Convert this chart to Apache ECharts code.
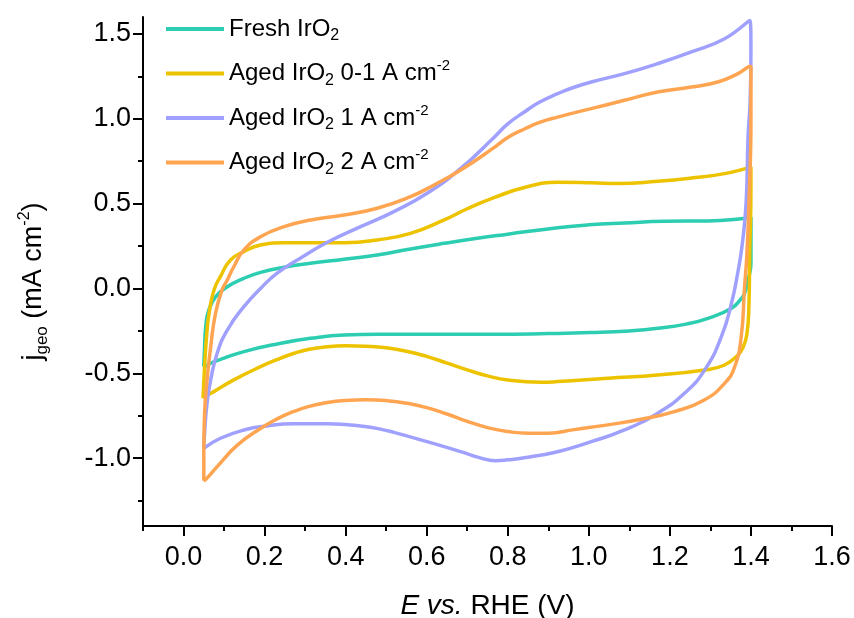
<!DOCTYPE html>
<html><head><meta charset="utf-8">
<script src="https://cdn.jsdelivr.net/npm/echarts@6/dist/echarts.min.js"></script>
<style>html,body{margin:0;padding:0;background:#fff}#c{width:854px;height:618px}</style>
</head><body><div id="c"></div>
<script>
// ---- data ----
const seriesNames = ['Fresh IrO2', 'Aged IrO2 0-1 A cm-2', 'Aged IrO2 1 A cm-2', 'Aged IrO2 2 A cm-2'];
const legendLabels = ['Fresh IrO{sub|2}', 'Aged IrO{sub|2} 0-1 A cm{sup|-2}', 'Aged IrO{sub|2} 1 A cm{sup|-2}', 'Aged IrO{sub|2} 2 A cm{sup|-2}'];
const seriesColors = ['#2CCDB0', '#EDC300', '#A0A0FF', '#FFA552'];

const freshE = [0.05,0.052,0.055,0.062,0.079,0.108,0.149,0.19,0.248,0.313,0.396,0.478,0.56,0.643,0.725,0.8,0.923,1.0,1.088,1.187,1.294,1.376,1.40,1.40,1.40,1.393,1.384,1.376,1.352,1.294,1.24,1.17,1.1,1.006,0.9,0.766,0.6,0.478,0.396,0.313,0.231,0.149,0.1,0.067,0.05];
const freshJ = [-0.46,-0.34,-0.22,-0.13,-0.05,0.01,0.06,0.095,0.125,0.148,0.172,0.197,0.233,0.266,0.296,0.32,0.358,0.375,0.386,0.396,0.398,0.411,0.42,0.37,0.15,0.05,-0.03,-0.06,-0.117,-0.176,-0.21,-0.235,-0.25,-0.26,-0.266,-0.27,-0.27,-0.27,-0.274,-0.294,-0.327,-0.372,-0.411,-0.441,-0.47];

const aged01E = [0.048,0.05,0.054,0.058,0.063,0.075,0.091,0.116,0.149,0.19,0.248,0.314,0.396,0.478,0.56,0.643,0.7,0.766,0.841,0.923,1.006,1.072,1.17,1.253,1.335,1.384,1.40,1.40,1.397,1.395,1.39,1.38,1.368,1.335,1.285,1.17,1.047,0.923,0.882,0.8,0.75,0.7,0.65,0.6,0.55,0.5,0.45,0.4,0.355,0.31,0.273,0.23,0.19,0.124,0.075,0.054,0.048];
const aged01J = [-0.647,-0.55,-0.38,-0.25,-0.146,-0.01,0.07,0.168,0.217,0.256,0.27,0.27,0.27,0.286,0.325,0.404,0.47,0.535,0.595,0.626,0.623,0.618,0.632,0.651,0.677,0.705,0.716,0.6,0.2,-0.1,-0.27,-0.35,-0.392,-0.451,-0.48,-0.51,-0.529,-0.549,-0.553,-0.54,-0.515,-0.48,-0.44,-0.40,-0.37,-0.35,-0.34,-0.338,-0.343,-0.358,-0.382,-0.42,-0.461,-0.539,-0.608,-0.637,-0.647];

const aged1E = [0.05,0.053,0.058,0.067,0.083,0.108,0.149,0.19,0.231,0.289,0.355,0.437,0.519,0.601,0.684,0.766,0.8,0.841,0.88,0.923,0.96,1.006,1.088,1.17,1.253,1.335,1.397,1.40,1.398,1.393,1.388,1.378,1.368,1.352,1.327,1.286,1.236,1.17,1.088,1.006,0.923,0.841,0.8,0.77,0.73,0.684,0.601,0.519,0.48,0.437,0.4,0.355,0.272,0.206,0.149,0.091,0.05];
const aged1J = [-0.942,-0.814,-0.677,-0.539,-0.382,-0.245,-0.107,0.0,0.09,0.18,0.272,0.364,0.453,0.561,0.708,0.89,0.97,1.04,1.10,1.148,1.183,1.217,1.266,1.325,1.394,1.472,1.58,1.40,1.1,0.9,0.5,0.25,0.1,-0.087,-0.284,-0.48,-0.618,-0.735,-0.834,-0.903,-0.962,-0.998,-1.01,-1.015,-0.997,-0.962,-0.903,-0.848,-0.826,-0.81,-0.802,-0.798,-0.798,-0.81,-0.834,-0.883,-0.942];

const aged2E = [0.05,0.05,0.052,0.058,0.067,0.079,0.095,0.108,0.124,0.149,0.19,0.248,0.314,0.396,0.478,0.56,0.618,0.684,0.766,0.8,0.841,0.88,0.923,1.006,1.088,1.17,1.253,1.318,1.368,1.393,1.40,1.40,1.395,1.39,1.384,1.376,1.36,1.335,1.285,1.211,1.129,1.047,0.964,0.9,0.85,0.8,0.75,0.7,0.65,0.6,0.55,0.5,0.45,0.4,0.355,0.31,0.272,0.23,0.19,0.132,0.083,0.054,0.05];
const aged2J = [-1.133,-0.97,-0.735,-0.539,-0.343,-0.146,-0.009,0.05,0.128,0.227,0.305,0.364,0.404,0.433,0.473,0.541,0.61,0.698,0.83,0.89,0.94,0.98,1.01,1.06,1.109,1.158,1.187,1.217,1.266,1.305,1.31,1.0,0.5,0.2,0.0,-0.284,-0.461,-0.559,-0.657,-0.726,-0.771,-0.804,-0.832,-0.853,-0.853,-0.843,-0.82,-0.783,-0.74,-0.702,-0.676,-0.661,-0.656,-0.66,-0.672,-0.695,-0.725,-0.77,-0.825,-0.925,-1.05,-1.128,-1.133];

const xMajorTicks = [0, 0.2, 0.4, 0.6, 0.8, 1.0, 1.2, 1.4, 1.6];
const xMinorTicks = [-0.1, 0.1, 0.3, 0.5, 0.7, 0.9, 1.1, 1.3, 1.5];
const yMajorTicks = [-1.0, -0.5, 0, 0.5, 1.0, 1.5];
const yMinorTicks = [-1.25, -0.75, -0.25, 0.25, 0.75, 1.25];

// ---- chart ----
const FONT = 'Liberation Sans';
const allE = [freshE, aged01E, aged1E, aged2E];
const allJ = [freshJ, aged01J, aged1J, aged2J];
function zip(a, b) { const n = Math.min(a.length, b.length); const r = []; for (let i = 0; i < n; i++) r.push([a[i], b[i]]); return r; }
const fmt = v => (v < 0 ? '-' : '') + Math.abs(v).toFixed(1);

const axisLineStyle = { color: '#000', width: 2 };
const chart = echarts.init(document.getElementById('c'), null, { renderer: 'canvas' });
chart.setOption({
  backgroundColor: '#fff',
  animation: false,
  color: seriesColors,
  grid: { left: 143, right: 22, top: 17, bottom: 92, containLabel: false, outerBoundsMode: 'none' },
  legend: {
    orient: 'vertical', left: 166, top: 14, padding: 0, icon: 'rect', itemWidth: 58, itemHeight: 4, itemGap: 14.5,
    data: seriesNames,
    formatter: name => legendLabels[seriesNames.indexOf(name)],
    textStyle: {
      fontFamily: FONT, fontSize: 24, color: '#000', lineHeight: 30,
      rich: {
        sub: { fontFamily: FONT, fontSize: 16, color: '#000', lineHeight: 15, verticalAlign: 'bottom' },
        sup: { fontFamily: FONT, fontSize: 15, color: '#000', lineHeight: 18, verticalAlign: 'top' }
      }
    }
  },
  xAxis: [{
    type: 'value', min: -0.1, max: 1.6, position: 'bottom',
    axisLine: { show: true, onZero: false, lineStyle: axisLineStyle },
    axisTick: { show: true, inside: false, length: 10, lineStyle: axisLineStyle, customValues: xMajorTicks },
    axisLabel: { show: true, customValues: xMajorTicks, formatter: fmt, fontFamily: FONT, fontSize: 27, color: '#000', margin: 18 },
    splitLine: { show: false },
    name: '{i|E} {i|vs.} RHE (V)', nameLocation: 'middle', nameGap: 66,
    nameTextStyle: { fontFamily: FONT, fontSize: 28, color: '#000', rich: { i: { fontFamily: FONT, fontSize: 28, fontStyle: 'italic', color: '#000' } } }
  }, {
    type: 'value', min: -0.1, max: 1.6, position: 'bottom',
    axisLine: { show: false, onZero: false },
    axisTick: { show: true, inside: false, length: 5, lineStyle: axisLineStyle, customValues: xMinorTicks },
    axisLabel: { show: false }, splitLine: { show: false }
  }],
  yAxis: [{
    type: 'value', min: -1.4, max: 1.6, position: 'left',
    axisLine: { show: true, onZero: false, lineStyle: axisLineStyle },
    axisTick: { show: true, inside: false, length: 10, lineStyle: axisLineStyle, customValues: yMajorTicks },
    axisLabel: { show: true, customValues: yMajorTicks, formatter: fmt, fontFamily: FONT, fontSize: 27, color: '#000', margin: 12 },
    splitLine: { show: false },
    name: '{t|j}{sub|geo}{t| (mA cm}{sup|-2}{t|)}', nameLocation: 'middle', nameGap: 92, nameRotate: 90,
    nameTextStyle: {
      fontFamily: FONT, fontSize: 27, color: '#000', lineHeight: 34, padding: [0, 20, 0, 0],
      rich: {
        t: { fontFamily: FONT, fontSize: 27, color: '#000', lineHeight: 34 },
        sub: { fontFamily: FONT, fontSize: 17, color: '#000', lineHeight: 17, verticalAlign: 'bottom' },
        sup: { fontFamily: FONT, fontSize: 16, color: '#000', lineHeight: 20, verticalAlign: 'top' }
      }
    }
  }, {
    type: 'value', min: -1.4, max: 1.6, position: 'left',
    axisLine: { show: false, onZero: false },
    axisTick: { show: true, inside: false, length: 5, lineStyle: axisLineStyle, customValues: yMinorTicks },
    axisLabel: { show: false }, splitLine: { show: false }
  }],
  series: seriesNames.map((n, i) => ({
    name: n, type: 'line', xAxisIndex: 0, yAxisIndex: 0,
    data: zip(allE[i], allJ[i]),
    showSymbol: false, symbol: 'none', smooth: 0.5,
    lineStyle: { width: 3.5, color: seriesColors[i] },
    itemStyle: { color: seriesColors[i] }
  }))
});
</script></body></html>
